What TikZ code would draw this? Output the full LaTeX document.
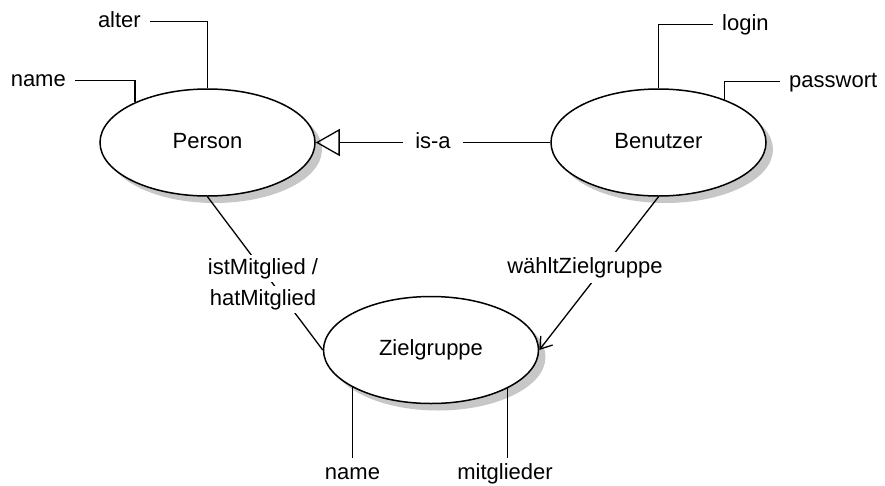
\documentclass[tikz,border=0pt]{standalone}
\usepackage{fontspec}
\setmainfont{Liberation Sans}
\usetikzlibrary{shapes.geometric,arrows.meta,shadows,calc}

\tikzset{
  every node/.style={font=\fontsize{22}{26}\selectfont, text height=16pt, text depth=4.5pt},
  entity/.style={ellipse, draw, fill=white, line width=1.5pt, inner sep=0pt,
    minimum width=215pt, minimum height=107pt,
    drop shadow={shadow xshift=7pt, shadow yshift=-7pt, fill=black!22, opacity=1}},
  attr/.style={inner xsep=9pt, inner ysep=5pt},
  rel/.style={fill=white, inner xsep=12pt, inner ysep=5pt},
  link/.style={line width=1.3pt},
}

\begin{document}
\begin{tikzpicture}[x=1pt, y=-1pt]
  \useasboundingbox (0,0) rectangle (885,485);

  % entities
  \node[entity] (person)   at (207.5,142.5) {Person};
  \node[entity] (benutzer) at (658.5,142.5) {Benutzer};
  \node[entity] (zg)       at (431,350) {Zielgruppe};

  % attribute labels
  \node[attr, anchor=east]  (alter)    at (150,21.5)  {alter};
  \node[attr, anchor=east]  (pname)    at (75,80.5)   {name};
  \node[attr, anchor=west]  (login)    at (713,24.5)  {login};
  \node[attr, anchor=west]  (passwort) at (780,81.5)  {passwort};
  \node[attr, anchor=north] (zname)    at (352.5,458) {name};
  \node[attr, anchor=north] (mitgl)    at (505,458)   {mitglieder};
  \coordinate (mitglTop) at ($(mitgl.north)+(2.5,0)$);

  % attribute connectors
  \draw[link] (person.north) |- (alter.east);
  \draw[link] (person.151) |- (pname.east);
  \draw[link] (benutzer.north) |- (login.west);
  \draw[link] (benutzer.33) |- (passwort.west);
  \draw[link] (zname.north) -- (zname.north |- zg.-155);
  \draw[link] (mitglTop) -- (mitglTop |- zg.-26);

  % generalisation
  \draw[link, -{Triangle[open, length=24pt, width=27pt]}]
    (benutzer.west) -- node[rel] (isa) {is-a} (person.east);

  % membership relation
  \draw[link] (person.south) -- (zg.west);
  \node[fill=white, inner xsep=2pt, inner ysep=3pt, anchor=base] (ist) at (263,274) {istMitglied /};
  \node[fill=white, inner xsep=2pt, inner ysep=3pt, anchor=base] (hat) at (263,305) {hatMitglied};

  % selection relation
  \draw[link, -{Straight Barb[length=11pt, width=15pt]}] (benutzer.south) -- (zg.east);
  \node[fill=white, inner xsep=4pt, inner ysep=5pt, anchor=base] (waehlt) at (585,273) {wähltZielgruppe};
\end{tikzpicture}
\end{document}
